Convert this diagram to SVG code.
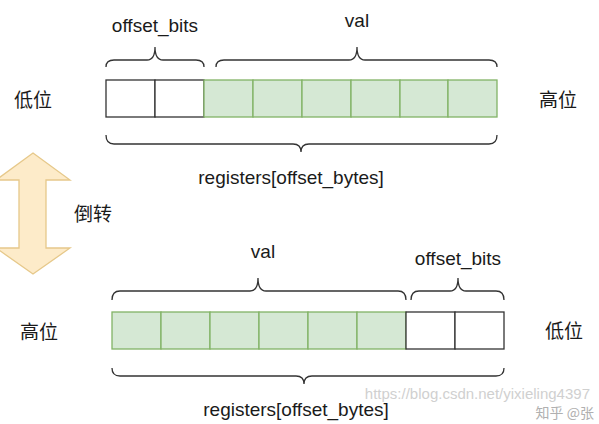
<svg xmlns="http://www.w3.org/2000/svg" width="599" height="424" viewBox="0 0 599 424">
<style>
.t{font-family:"Liberation Sans","Noto Sans CJK SC",Arial,sans-serif;font-size:19px;fill:#1a1a1a}
.cj{font-family:"Noto Sans CJK SC","Liberation Sans",sans-serif;font-size:19px;fill:#1a1a1a}
.w{fill:#ffffff;stroke:#333333;stroke-width:1.3}
.g{fill:#d5e8d4;stroke:#82b366;stroke-width:1.3}
.br{fill:none;stroke:#333333;stroke-width:1.3}
.wm{font-family:"Liberation Sans",sans-serif;font-size:15px;fill:#d0d0d0}
</style>
<rect width="599" height="424" fill="#ffffff"/>
<g id="top-row">
<rect class="w" x="106" y="80" width="49" height="37"/>
<rect class="w" x="155" y="80" width="49" height="37"/>
<rect class="g" x="204" y="80" width="49" height="37"/>
<rect class="g" x="253" y="80" width="49" height="37"/>
<rect class="g" x="302" y="80" width="49" height="37"/>
<rect class="g" x="351" y="80" width="49" height="37"/>
<rect class="g" x="400" y="80" width="48" height="37"/>
<rect class="g" x="448" y="80" width="49" height="37"/>
</g>
<g id="bottom-row">
<rect class="g" x="112" y="312" width="49" height="37"/>
<rect class="g" x="161" y="312" width="49" height="37"/>
<rect class="g" x="210" y="312" width="49" height="37"/>
<rect class="g" x="259" y="312" width="49" height="37"/>
<rect class="g" x="308" y="312" width="49" height="37"/>
<rect class="g" x="357" y="312" width="49" height="37"/>
<rect class="w" x="406" y="312" width="49" height="37"/>
<rect class="w" x="455" y="312" width="49" height="37"/>
</g>
<g id="braces">
<path class="br" d="M106 67 Q106 60 114 60 L147 60 Q155 60 155 47 Q155 60 163 60 L196 60 Q204 60 204 67"/>
<path class="br" d="M216 67 Q216 60 224 60 L349 60 Q357 60 357 47 Q357 60 365 60 L489 60 Q497 60 497 67"/>
<path class="br" d="M106 135 Q106 144 114 144 L293 144 Q301 144 301 152 Q301 144 309 144 L489 144 Q497 144 497 135"/>
<path class="br" d="M112 300 Q112 291 120 291 L250 291 Q258 291 258 278 Q258 291 266 291 L398 291 Q406 291 406 300"/>
<path class="br" d="M411 300 Q411 291 419 291 L450 291 Q458 291 458 278 Q458 291 466 291 L496 291 Q504 291 504 300"/>
<path class="br" d="M112 368 Q112 376 120 376 L296 376 Q304 376 304 384 Q304 376 312 376 L496 376 Q504 376 504 368"/>
</g>
<g id="flip-arrow">
<path d="M33 153 L70 180 L46 180 L46 248 L70 248 L33 274 L-4 248 L19 248 L19 180 L-4 180 Z" fill="#fdebc9" stroke="#e6c88a" stroke-width="1.3"/>
</g>
<g id="labels">
<text class="t" x="155" y="32" text-anchor="middle">offset_bits</text>
<text class="t" x="357" y="27" text-anchor="middle">val</text>
<text class="t" x="291" y="184" text-anchor="middle">registers[offset_bytes]</text>
<text class="cj" x="33" y="107" text-anchor="middle">低位</text>
<text class="cj" x="558" y="107" text-anchor="middle">高位</text>
<text class="cj" x="93" y="221" text-anchor="middle">倒转</text>
<text class="t" x="263" y="258" text-anchor="middle">val</text>
<text class="t" x="458" y="265" text-anchor="middle">offset_bits</text>
<text class="cj" x="39" y="339" text-anchor="middle">高位</text>
<text class="cj" x="564" y="338" text-anchor="middle">低位</text>
<text class="t" x="296" y="416" text-anchor="middle">registers[offset_bytes]</text>
</g>
<g id="watermark">
<text class="wm" x="590" y="399" text-anchor="end">https://blog.csdn.net/yixieling4397</text>
<text x="594" y="418" text-anchor="end" font-family="Noto Sans CJK SC,sans-serif" font-size="14" fill="#b0b0b0">知乎 @张</text>
</g>
</svg>
